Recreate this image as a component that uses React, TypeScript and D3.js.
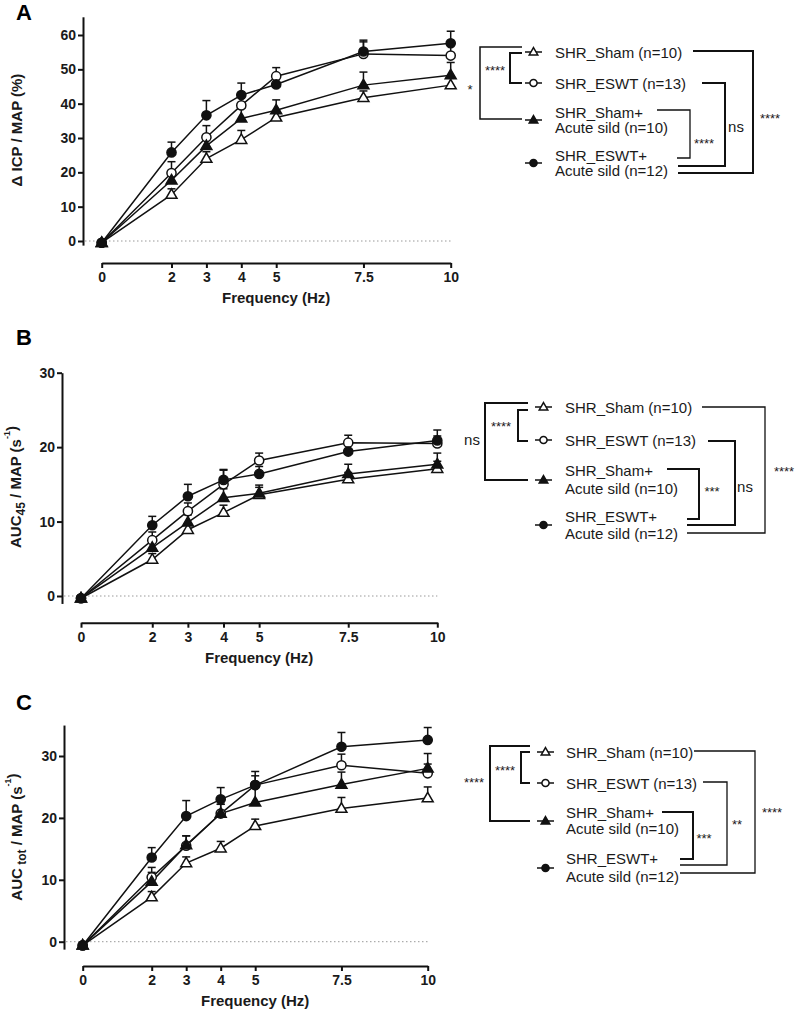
import React, { useRef, useEffect } from 'react';
import * as d3 from 'd3';

const FONT = '"Liberation Sans", Arial, Helvetica, sans-serif';
const INK = '#1a1a1a';

// x categories (Hz)
const freqs = [0, 2, 3, 4, 5, 7.5, 10];
const freqLabels = ['0', '2', '3', '4', '5', '7.5', '10'];

// legend text, one entry per group (Sham, ESWT, Sham+sild, ESWT+sild)
const groupLabels = [
  ['SHR_Sham (n=10)'],
  ['SHR_ESWT (n=13)'],
  ['SHR_Sham+', 'Acute sild (n=10)'],
  ['SHR_ESWT+', 'Acute sild (n=12)'],
];
const markerKinds = ['tri-open', 'circ-open', 'tri-filled', 'circ-filled'];

// Panel A: delta ICP / MAP (%)
const icpSham = [-0.5, 13.5, 24.0, 29.5, 36.0, 41.7, 45.4];
const icpEswt = [-0.5, 19.8, 30.2, 39.5, 48.0, 54.5, 54.0];
const icpShamSild = [-0.5, 17.7, 27.7, 35.7, 38.1, 45.4, 48.3];
const icpEswtSild = [-0.5, 25.8, 36.6, 42.5, 45.6, 55.2, 57.6];
const icpShamSem = [0, 1.7, 2.0, 2.7, 2.0, 2.0, 2.0];
const icpEswtSem = [0, 3.3, 3.4, 3.0, 2.5, 3.5, 3.0];
const icpShamSildSem = [0, 2.0, 2.5, 3.0, 3.0, 3.8, 3.7];
const icpEswtSildSem = [0, 3.0, 4.3, 3.5, 3.0, 3.3, 3.5];
const icpTicks = [0, 10, 20, 30, 40, 50, 60];
const sigA = ['*', '****', '****', 'ns', '****'];

// Panel B: AUC45 / MAP (s-1)
const auc45Sham = [-0.3, 4.9, 8.9, 11.2, 13.6, 15.7, 17.1];
const auc45Eswt = [-0.3, 7.5, 11.4, 15.0, 18.2, 20.6, 20.5];
const auc45ShamSild = [-0.3, 6.5, 9.9, 13.2, 13.8, 16.4, 17.7];
const auc45EswtSild = [-0.3, 9.5, 13.4, 15.6, 16.4, 19.4, 20.9];
const auc45ShamSem = [0, 0.8, 0.8, 1.0, 1.0, 0.9, 1.0];
const auc45EswtSem = [0, 1.1, 1.1, 1.9, 1.0, 1.0, 1.0];
const auc45ShamSildSem = [0, 0.9, 1.0, 1.2, 1.1, 1.3, 1.5];
const auc45EswtSildSem = [0, 1.2, 1.6, 1.4, 1.0, 1.0, 1.4];
const auc45Ticks = [0, 10, 20, 30];
const sigB = ['ns', '****', '***', 'ns', '****'];

// Panel C: AUCtot / MAP (s-1)
const aucTotSham = [-0.6, 7.2, 12.7, 15.1, 18.7, 21.5, 23.2];
const aucTotEswt = [-0.6, 10.4, 15.5, 20.7, 25.3, 28.5, 27.2];
const aucTotShamSild = [-0.6, 9.7, 15.6, 20.7, 22.5, 25.4, 28.0];
const aucTotEswtSild = [-0.6, 13.6, 20.3, 23.0, 25.3, 31.5, 32.6];
const aucTotShamSem = [0, 0.9, 1.0, 1.1, 1.1, 1.8, 1.8];
const aucTotEswtSem = [0, 1.6, 1.6, 1.5, 2.2, 1.8, 1.5];
const aucTotShamSildSem = [0, 1.5, 1.5, 1.5, 2.5, 2.0, 2.4];
const aucTotEswtSildSem = [0, 1.6, 2.5, 1.9, 1.5, 2.3, 2.0];
const aucTotTicks = [0, 10, 20, 30];
const sigC = ['****', '****', '***', '**', '****'];

type Bracket = { top: [number, number]; bottom: [number, number]; xv: number; lx: number; ly: number; w: number };

const panels = [
  {
    letter: 'A', letterY: 20,
    yAxisX: 83, y0: 241, yTopPx: 35, yTopVal: 60, yMin: -1.2, yMax: 65.3, ticks: icpTicks,
    xLeft: 101.7, xRight: 450.7, xAxisY: 263,
    yTitle: [{ t: 'Δ ICP / MAP (%)' }], yTitleX: 17, yTitleY: 130,
    series: [icpSham, icpEswt, icpShamSild, icpEswtSild],
    sems: [icpShamSem, icpEswtSem, icpShamSildSem, icpEswtSildSem],
    sig: sigA,
    legend: { mx: 533, tx: 555, rows: [[52, [52]], [83, [83]], [120, [112, 127]], [163, [155, 170]]] },
    brackets: [
      { top: [522, 47], bottom: [522, 119], xv: 480, lx: 470, ly: 86, w: 1.5 },
      { top: [522, 53], bottom: [522, 83], xv: 510, lx: 495, ly: 67, w: 2 },
      { top: [657, 110], bottom: [677, 158], xv: 690, lx: 704, ly: 140, w: 1.3 },
      { top: [702, 83], bottom: [678, 166], xv: 725, lx: 736, ly: 127, w: 2 },
      { top: [693, 51], bottom: [678, 173], xv: 753, lx: 770, ly: 115, w: 2 },
    ] as Bracket[],
  },
  {
    letter: 'B', letterY: 345,
    yAxisX: 62, y0: 596, yTopPx: 372.7, yTopVal: 30, yMin: -1, yMax: 30, ticks: auc45Ticks,
    xLeft: 81, xRight: 437.3, xAxisY: 622.7,
    yTitle: [{ t: 'AUC' }, { t: '45', sub: true }, { t: ' / MAP (s', back: true }, { t: '-1', sup: true }, { t: ')', back: true }],
    yTitleX: 16, yTitleY: 487,
    series: [auc45Sham, auc45Eswt, auc45ShamSild, auc45EswtSild],
    sems: [auc45ShamSem, auc45EswtSem, auc45ShamSildSem, auc45EswtSildSem],
    sig: sigB,
    legend: { mx: 543, tx: 565, rows: [[407, [407]], [440, [440]], [480, [470, 488]], [525, [516, 533]]] },
    brackets: [
      { top: [528, 403], bottom: [528, 480], xv: 485, lx: 472, ly: 440, w: 2 },
      { top: [528, 410], bottom: [528, 441], xv: 518, lx: 501, ly: 423, w: 2 },
      { top: [667, 469], bottom: [687, 519], xv: 699, lx: 712, ly: 488, w: 2 },
      { top: [708, 441], bottom: [687, 525], xv: 735, lx: 745, ly: 487, w: 2 },
      { top: [702, 407], bottom: [687, 533], xv: 765, lx: 784, ly: 468, w: 1.3 },
    ] as Bracket[],
  },
  {
    letter: 'C', letterY: 710,
    yAxisX: 64, y0: 941.7, yTopPx: 756, yTopVal: 30, yMin: -1.2, yMax: 35, ticks: aucTotTicks,
    xLeft: 82.7, xRight: 427.7, xAxisY: 966,
    yTitle: [{ t: 'AUC' }, { t: ' tot', sub: true }, { t: ' / MAP (s', back: true }, { t: '-1', sup: true }, { t: ')', back: true }],
    yTitleX: 17, yTitleY: 837,
    series: [aucTotSham, aucTotEswt, aucTotShamSild, aucTotEswtSild],
    sems: [aucTotShamSem, aucTotEswtSem, aucTotShamSildSem, aucTotEswtSildSem],
    sig: sigC,
    legend: { mx: 545, tx: 566, rows: [[752, [752]], [783, [783]], [821, [812, 828]], [868, [858, 876]]] },
    brackets: [
      { top: [530, 746], bottom: [530, 821], xv: 490, lx: 474, ly: 779, w: 2 },
      { top: [530, 752], bottom: [530, 783], xv: 521, lx: 505, ly: 767, w: 2 },
      { top: [662, 812], bottom: [680, 859], xv: 693, lx: 704, ly: 835, w: 2 },
      { top: [703, 782], bottom: [680, 865], xv: 727, lx: 737, ly: 821, w: 1.3 },
      { top: [694, 751], bottom: [680, 873], xv: 755, lx: 772, ly: 809, w: 1.3 },
    ] as Bracket[],
  },
];

const drawMarker = (g: any, kind: string, cx: number, cy: number, scale = 1) => {
  const isTri = kind.startsWith('tri');
  const filled = kind.endsWith('filled');
  const sym = d3.symbol().type(isTri ? d3.symbolTriangle : d3.symbolCircle).size((isTri ? 52 : 66) * scale * scale);
  g.append('path')
    .attr('d', sym() as string)
    .attr('transform', `translate(${cx},${cy + (isTri ? 0.5 : 0)})`)
    .attr('fill', filled ? '#111' : '#fff')
    .attr('stroke', '#111')
    .attr('stroke-width', 1.5);
};

const drawPanel = (svg: any, p: any) => {
  const g = svg.append('g');
  const ppu = (p.y0 - p.yTopPx) / p.yTopVal;
  const y = d3.scaleLinear().domain([p.yMin, p.yMax]).range([p.y0 - p.yMin * ppu, p.y0 - p.yMax * ppu]);
  const x = d3.scaleLinear().domain([0, 10]).range([p.xLeft, p.xRight]);

  // panel letter
  g.append('text').attr('x', 16).attr('y', p.letterY)
    .attr('font-family', FONT).attr('font-weight', 'bold').attr('font-size', 22).attr('fill', '#000')
    .text(p.letter);

  // zero reference line
  g.append('line')
    .attr('x1', p.yAxisX + 2).attr('x2', x(10)).attr('y1', y(0)).attr('y2', y(0))
    .attr('stroke', '#999').attr('stroke-width', 1).attr('stroke-dasharray', '1.5,2.5');

  // y axis
  const ya = g.append('g').attr('transform', `translate(${p.yAxisX},0)`)
    .call(d3.axisLeft(y).tickValues(p.ticks).tickSize(5).tickSizeOuter(0).tickPadding(2));
  ya.selectAll('path,line').attr('stroke', '#111').attr('stroke-width', 2);
  ya.selectAll('text').attr('font-family', FONT).attr('font-weight', 'bold').attr('font-size', 14).attr('fill', INK);

  // x axis (offset below)
  const xa = g.append('g').attr('transform', `translate(0,${p.xAxisY})`)
    .call(d3.axisBottom(x).tickValues(freqs).tickFormat((_: any, i: number) => freqLabels[i]).tickSize(5).tickSizeOuter(0).tickPadding(4));
  xa.selectAll('path,line').attr('stroke', '#111').attr('stroke-width', 2);
  xa.selectAll('text').attr('font-family', FONT).attr('font-weight', 'bold').attr('font-size', 14).attr('fill', INK);

  // axis titles
  g.append('text').attr('x', (p.xLeft + p.xRight) / 2).attr('y', p.xAxisY + 40)
    .attr('text-anchor', 'middle').attr('font-family', FONT).attr('font-weight', 'bold')
    .attr('font-size', 15).attr('fill', INK).text('Frequency (Hz)');

  const yt = g.append('text')
    .attr('transform', `translate(${p.yTitleX},${p.yTitleY}) rotate(-90)`)
    .attr('y', 5).attr('text-anchor', 'middle').attr('font-family', FONT).attr('font-weight', 'bold')
    .attr('font-size', 15).attr('fill', INK);
  p.yTitle.forEach((part: any) => {
    const ts = yt.append('tspan').text(part.t);
    if (part.sub) ts.attr('dy', 4).attr('font-size', 12);
    else if (part.sup) ts.attr('dy', -11).attr('font-size', 9);
    else if (part.back) ts.attr('dy', part.t === ')' ? 7 : -4);
  });

  // series: line, up-only error bars, markers
  const line = d3.line<number>().x((_, i) => x(freqs[i])).y((d) => y(d));
  p.series.forEach((vals: number[]) => {
    g.append('path').attr('d', line(vals) as string)
      .attr('fill', 'none').attr('stroke', '#111').attr('stroke-width', 1.5);
  });
  p.series.forEach((vals: number[], s: number) => {
    const sem = p.sems[s];
    vals.forEach((v, i) => {
      if (!sem[i]) return;
      const cx = x(freqs[i]);
      g.append('line').attr('x1', cx).attr('x2', cx).attr('y1', y(v)).attr('y2', y(v + sem[i]))
        .attr('stroke', '#111').attr('stroke-width', 1.5);
      g.append('line').attr('x1', cx - 4).attr('x2', cx + 4).attr('y1', y(v + sem[i])).attr('y2', y(v + sem[i]))
        .attr('stroke', '#111').attr('stroke-width', 1.5);
    });
  });
  p.series.forEach((vals: number[], s: number) => {
    vals.forEach((v, i) => drawMarker(g, markerKinds[s], x(freqs[i]), y(v)));
  });

  // legend
  const lg = p.legend;
  lg.rows.forEach((row: any, s: number) => {
    const [my, tys] = row;
    g.append('line').attr('x1', lg.mx - 8).attr('x2', lg.mx + 9).attr('y1', my).attr('y2', my)
      .attr('stroke', '#111').attr('stroke-width', 1.5);
    drawMarker(g, markerKinds[s], lg.mx + 0.5, my, 0.78);
    tys.forEach((ty: number, k: number) => {
      g.append('text').attr('x', lg.tx).attr('y', ty + 5.5)
        .attr('font-family', FONT).attr('font-size', 15).attr('fill', INK)
        .text(groupLabels[s][k]);
    });
  });

  // significance brackets
  p.brackets.forEach((b: Bracket, k: number) => {
    g.append('path')
      .attr('d', `M${b.top[0]},${b.top[1]}H${b.xv}V${b.bottom[1]}H${b.bottom[0]}`)
      .attr('fill', 'none').attr('stroke', '#111').attr('stroke-width', b.w);
    const label = p.sig[k];
    const star = label.includes('*');
    g.append('text').attr('x', b.lx).attr('y', b.ly + (star ? 8 : 5))
      .attr('text-anchor', 'middle').attr('font-family', FONT).attr('font-size', star ? 13 : 15)
      .attr('fill', INK).text(label);
  });
};

const App: React.FC = () => {
  const svgRef = useRef<SVGSVGElement>(null);

  useEffect(() => {
    if (!svgRef.current) return;
    const svg = d3.select(svgRef.current);
    svg.selectAll('*').remove();
    panels.forEach((p) => drawPanel(svg, p));
  }, []);

  return (
    <svg
      ref={svgRef}
      width={797}
      height={1017}
      style={{ position: 'absolute', left: 0, top: 0, background: '#fff' }}
    />
  );
};

export default App;
